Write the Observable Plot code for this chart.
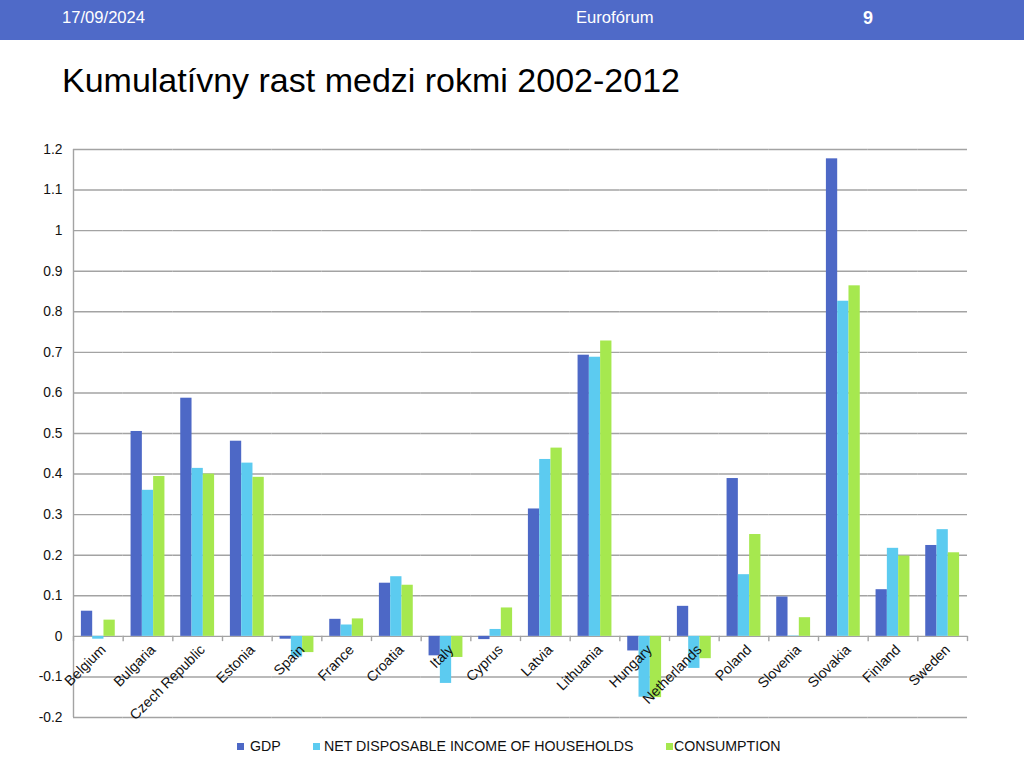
<!DOCTYPE html>
<html>
<head>
<meta charset="utf-8">
<script src="https://cdn.jsdelivr.net/npm/d3@7"></script>
<script src="https://cdn.jsdelivr.net/npm/@observablehq/plot@0.6"></script>
<style>
  body { margin: 0; background: #fff; font-family: "Liberation Sans", Arial, sans-serif; }
  #page { position: relative; width: 1024px; height: 768px; overflow: hidden; background: #fff; }
  #hdr { position: absolute; left: 0; top: 0; width: 1024px; height: 40px; background: #4f6ac8; color: #fff; }
  #hdr span { position: absolute; top: 0; line-height: 36px; font-size: 16.6px; }
  #title { position: absolute; left: 62px; top: 63px; font-size: 34px; line-height: 34px; color: #000; white-space: nowrap; }
  #chart { position: absolute; left: 0; top: 110px; }
  #legend { position: absolute; top: 737px; left: 0; width: 1024px; height: 18px; font-size: 14.2px; color: #111; }
  #legend .item { position: absolute; top: 0; line-height: 18px; white-space: nowrap; }
  #legend .sw { position: absolute; top: 6px; width: 7px; height: 7px; }
  #legend .tx { position: absolute; top: 0; }
</style>
</head>
<body>
<div id="page">
  <div id="hdr">
    <span id="date" style="left:62px;"></span>
    <span id="center" style="left:576px;"></span>
    <span id="num" style="left:863px;font-weight:bold;font-size:18px;"></span>
  </div>
  <div id="title"></div>
  <div id="chart"></div>
  <div id="legend"></div>
</div>
<script>
// ---- Data ----
const headerDate = "17/09/2024";
const headerCenter = "Eurofórum";
const headerPage = "9";
const titleText = "Kumulatívny rast medzi rokmi 2002-2012";

const countries = ["Belgium", "Bulgaria", "Czech Republic", "Estonia", "Spain", "France", "Croatia", "Italy", "Cyprus", "Latvia", "Lithuania", "Hungary", "Netherlands", "Poland", "Slovenia", "Slovakia", "Finland", "Sweden"];
const series = ["GDP", "NET DISPOSABLE INCOME OF HOUSEHOLDS", "CONSUMPTION"];
const gdp         = [0.062, 0.505, 0.587, 0.481, -0.007, 0.042, 0.131, -0.048, -0.008, 0.314, 0.693, -0.036, 0.074, 0.389, 0.097, 1.177, 0.115, 0.224];
const income      = [-0.007, 0.360, 0.414, 0.427, -0.051, 0.028, 0.147, -0.116, 0.017, 0.436, 0.688, -0.150, -0.079, 0.152, 0.001, 0.826, 0.217, 0.263];
const consumption = [0.040, 0.394, 0.400, 0.392, -0.040, 0.043, 0.126, -0.052, 0.070, 0.464, 0.728, -0.151, -0.055, 0.251, 0.046, 0.864, 0.198, 0.206];
const yTicks = [-0.2, -0.1, 0, 0.1, 0.2, 0.3, 0.4, 0.5, 0.6, 0.7, 0.8, 0.9, 1, 1.1, 1.2];
const colors = ["#4d68c6", "#5ccbf0", "#a6e84f"];

// ---- Table ----
const seriesValues = [gdp, income, consumption];
const table = countries.flatMap((c, i) => series.map((s, k) => ({country: c, series: s, value: seriesValues[k][i]})));

// ---- Layout ----
const W = 1024, H = 625, MT = 39, MB = 18, ML = 73, MR = 57;
const PO = 0.7; // outer padding of the bar group inside a category
const fw = (W - ML - MR) / countries.length;
const step = fw / (series.length + 2 * PO);
const edge = PO * step + step / 2; // from first/last bar centre to category edge
const grid = "#a3a3a3";

document.getElementById("date").textContent = headerDate;
document.getElementById("center").textContent = headerCenter;
document.getElementById("num").textContent = headerPage;
document.getElementById("title").textContent = titleText;

const chart = Plot.plot({
  width: W, height: H,
  marginTop: MT, marginBottom: MB, marginLeft: ML, marginRight: MR,
  style: {fontFamily: "'Liberation Sans', Arial, sans-serif", fontSize: "13.8px", color: "#111", background: "transparent", overflow: "visible"},
  fx: {domain: countries, padding: 0, round: false, axis: null},
  x: {domain: series, paddingInner: 0, paddingOuter: PO, round: false, axis: null},
  y: {domain: [-0.2, 1.2]},
  color: {domain: series, range: colors},
  marks: [
    Plot.ruleY(yTicks, {stroke: grid, strokeWidth: 1.4}),
    Plot.barY(table, {fx: "country", x: "series", y: "value", fill: "series"}),
    // left axis line
    Plot.ruleX([countries[0]], {fx: d => d, x: () => series[0], dx: -edge, y1: -0.2, y2: 1.2, stroke: grid, strokeWidth: 1.4}),
    // category boundary ticks
    Plot.ruleX(countries, {fx: d => d, x: () => series[0], dx: -edge, y1: 0, y2: -0.013, stroke: grid, strokeWidth: 1.4}),
    Plot.ruleX([countries[countries.length - 1]], {fx: d => d, x: () => series[series.length - 1], dx: edge, y1: 0, y2: -0.013, stroke: grid, strokeWidth: 1.4}),
    // category labels
    Plot.text(countries, {fx: d => d, y: () => 0, text: d => d, rotate: -45, textAnchor: "end", dx: 5, dy: 11, fill: "#111", fontSize: 14.2}),
    Plot.axisY({ticks: yTicks, tickSize: 0, tickPadding: 11, label: null, tickFormat: d => String(Math.round(d * 10) / 10), fill: "#111"})
  ]
});
document.getElementById("chart").appendChild(chart);

// ---- Legend ----
const legendSwatchX = [237, 313, 666];
const legendTextX = [250, 324, 674];
const legend = document.getElementById("legend");
series.forEach((s, k) => {
  const sw = document.createElement("div");
  sw.className = "sw";
  sw.style.left = legendSwatchX[k] + "px";
  sw.style.background = colors[k];
  legend.appendChild(sw);
  const tx = document.createElement("div");
  tx.className = "item";
  tx.style.left = legendTextX[k] + "px";
  tx.textContent = s;
  legend.appendChild(tx);
});
</script>
</body>
</html>
